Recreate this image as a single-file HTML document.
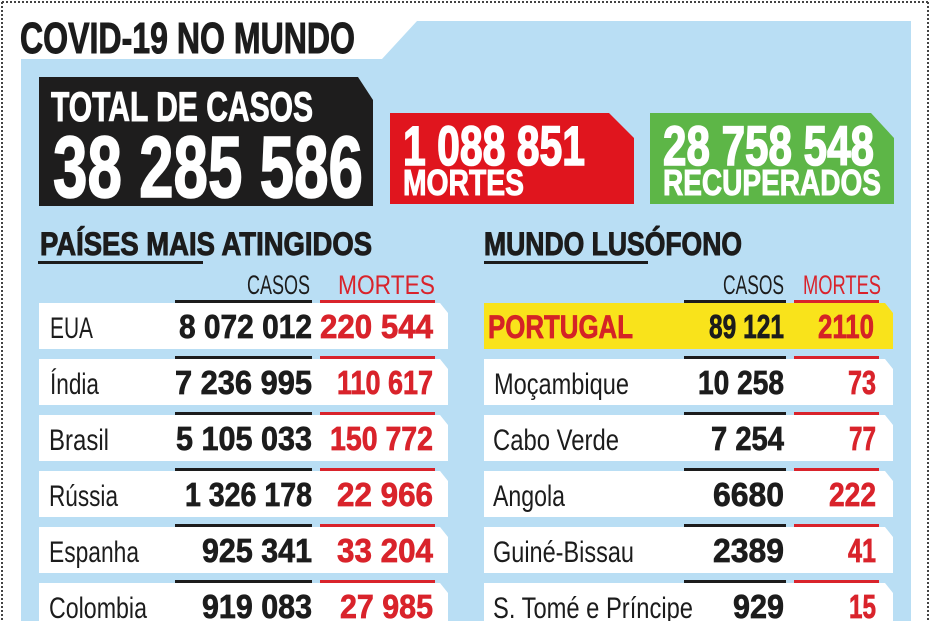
<!DOCTYPE html>
<html>
<head>
<meta charset="utf-8">
<style>
html,body{margin:0;padding:0;background:#fff;}
svg{display:block;}
text{font-family:"Liberation Sans",Arial,sans-serif;}
.b{font-weight:bold;}
.k{stroke:#1c1c1c;stroke-width:0.7;}
.r{stroke:#d9232b;stroke-width:0.7;}
.w{stroke:#fff;stroke-width:1;}
.wb{stroke:#fff;stroke-width:1.6;}
.t{stroke:#1c1c1c;stroke-width:1;}
</style>
</head>
<body>
<svg width="932" height="621" viewBox="0 0 932 621" xmlns="http://www.w3.org/2000/svg">
<rect x="0" y="0" width="932" height="621" fill="#ffffff"/>
<line x1="2" y1="2" x2="928" y2="2" stroke="#444" stroke-width="2" stroke-dasharray="2,2"/>
<line x1="2" y1="2" x2="2" y2="621" stroke="#444" stroke-width="2" stroke-dasharray="2,2"/>
<line x1="928" y1="2" x2="928" y2="621" stroke="#444" stroke-width="2" stroke-dasharray="2,2"/>
<polygon points="21,59 382,59 417,21 911,21 911,621 21,621" fill="#b9def4"/>

<text x="20" y="53" font-size="44" class="b t" fill="#1c1c1c" textLength="335" lengthAdjust="spacingAndGlyphs">COVID-19 NO MUNDO</text>

<polygon points="39,77 358,77 373,100 373,206 39,206" fill="#1e1d1d"/>
<text x="51" y="121" font-size="42" class="b w" fill="#fff" textLength="262" lengthAdjust="spacingAndGlyphs">TOTAL DE CASOS</text>
<text x="53" y="197" font-size="87" class="b wb" fill="#fff" textLength="310" lengthAdjust="spacingAndGlyphs">38 285 586</text>

<polygon points="390,113 609,113 634,138 634,204 390,204" fill="#e0151e"/>
<text x="403" y="165" font-size="56" class="b wb" fill="#fff" textLength="182" lengthAdjust="spacingAndGlyphs">1 088 851</text>
<text x="403" y="195" font-size="36" class="b w" fill="#fff" textLength="121" lengthAdjust="spacingAndGlyphs">MORTES</text>

<polygon points="650,113 871,113 894,138 894,204 650,204" fill="#5db647"/>
<text x="663" y="165" font-size="56" class="b wb" fill="#fff" textLength="211" lengthAdjust="spacingAndGlyphs">28 758 548</text>
<text x="663" y="195" font-size="36" class="b w" fill="#fff" textLength="218" lengthAdjust="spacingAndGlyphs">RECUPERADOS</text>

<text x="40" y="255" font-size="32" class="b t" fill="#1c1c1c" textLength="332" lengthAdjust="spacingAndGlyphs">PAÍSES MAIS ATINGIDOS</text>
<rect x="38" y="261" width="165" height="3" fill="#1c1c1c"/>
<text x="484" y="255" font-size="32" class="b t" fill="#1c1c1c" textLength="258" lengthAdjust="spacingAndGlyphs">MUNDO LUSÓFONO</text>
<rect x="484" y="261" width="164" height="3" fill="#1c1c1c"/>

<text x="247" y="294" font-size="27" fill="#1c1c1c" textLength="63" lengthAdjust="spacingAndGlyphs">CASOS</text>
<text x="338" y="294" font-size="27" fill="#d9232b" textLength="97" lengthAdjust="spacingAndGlyphs">MORTES</text>
<text x="723" y="294" font-size="27" fill="#1c1c1c" textLength="61" lengthAdjust="spacingAndGlyphs">CASOS</text>
<text x="803" y="294" font-size="27" fill="#d9232b" textLength="78" lengthAdjust="spacingAndGlyphs">MORTES</text>

<g>
<polygon points="39,303 440,303 448,313 448,349 39,349" fill="#fff"/>
<polygon points="39,359 440,359 448,369 448,405 39,405" fill="#fff"/>
<polygon points="39,415 440,415 448,425 448,461 39,461" fill="#fff"/>
<polygon points="39,471 440,471 448,481 448,517 39,517" fill="#fff"/>
<polygon points="39,527 440,527 448,537 448,573 39,573" fill="#fff"/>
<polygon points="39,583 440,583 448,593 448,629 39,629" fill="#fff"/>

<rect x="175" y="300" width="137" height="3" fill="#1c1c1c"/><rect x="320" y="300" width="115" height="3" fill="#d9232b"/>
<rect x="175" y="356" width="137" height="3" fill="#1c1c1c"/><rect x="320" y="356" width="115" height="3" fill="#d9232b"/>
<rect x="175" y="412" width="137" height="3" fill="#1c1c1c"/><rect x="320" y="412" width="115" height="3" fill="#d9232b"/>
<rect x="175" y="468" width="137" height="3" fill="#1c1c1c"/><rect x="320" y="468" width="115" height="3" fill="#d9232b"/>
<rect x="175" y="524" width="137" height="3" fill="#1c1c1c"/><rect x="320" y="524" width="115" height="3" fill="#d9232b"/>
<rect x="175" y="580" width="137" height="3" fill="#1c1c1c"/><rect x="320" y="580" width="115" height="3" fill="#d9232b"/>

<text x="50" y="338" font-size="30" fill="#1c1c1c" textLength="43" lengthAdjust="spacingAndGlyphs">EUA</text>
<text x="50" y="394" font-size="30" fill="#1c1c1c" textLength="49" lengthAdjust="spacingAndGlyphs">Índia</text>
<text x="49" y="450" font-size="30" fill="#1c1c1c" textLength="60" lengthAdjust="spacingAndGlyphs">Brasil</text>
<text x="49" y="506" font-size="30" fill="#1c1c1c" textLength="69" lengthAdjust="spacingAndGlyphs">Rússia</text>
<text x="49" y="562" font-size="30" fill="#1c1c1c" textLength="90" lengthAdjust="spacingAndGlyphs">Espanha</text>
<text x="49" y="618" font-size="30" fill="#1c1c1c" textLength="98" lengthAdjust="spacingAndGlyphs">Colombia</text>

<text x="179" y="338" font-size="33" class="b k" fill="#1c1c1c" textLength="133" lengthAdjust="spacingAndGlyphs">8 072 012</text>
<text x="175" y="394" font-size="33" class="b k" fill="#1c1c1c" textLength="137" lengthAdjust="spacingAndGlyphs">7 236 995</text>
<text x="176" y="450" font-size="33" class="b k" fill="#1c1c1c" textLength="136" lengthAdjust="spacingAndGlyphs">5 105 033</text>
<text x="185" y="506" font-size="33" class="b k" fill="#1c1c1c" textLength="127" lengthAdjust="spacingAndGlyphs">1 326 178</text>
<text x="202" y="562" font-size="33" class="b k" fill="#1c1c1c" textLength="110" lengthAdjust="spacingAndGlyphs">925 341</text>
<text x="202" y="618" font-size="33" class="b k" fill="#1c1c1c" textLength="110" lengthAdjust="spacingAndGlyphs">919 083</text>

<text x="320" y="338" font-size="33" class="b r" fill="#d9232b" textLength="113" lengthAdjust="spacingAndGlyphs">220 544</text>
<text x="337" y="394" font-size="33" class="b r" fill="#d9232b" textLength="96" lengthAdjust="spacingAndGlyphs">110 617</text>
<text x="330" y="450" font-size="33" class="b r" fill="#d9232b" textLength="103" lengthAdjust="spacingAndGlyphs">150 772</text>
<text x="337" y="506" font-size="33" class="b r" fill="#d9232b" textLength="96" lengthAdjust="spacingAndGlyphs">22 966</text>
<text x="337" y="562" font-size="33" class="b r" fill="#d9232b" textLength="96" lengthAdjust="spacingAndGlyphs">33 204</text>
<text x="340" y="618" font-size="33" class="b r" fill="#d9232b" textLength="93" lengthAdjust="spacingAndGlyphs">27 985</text>
</g>

<g>
<polygon points="484,303 885,303 893,313 893,349 484,349" fill="#f9e31b"/>
<polygon points="484,359 885,359 893,369 893,405 484,405" fill="#fff"/>
<polygon points="484,415 885,415 893,425 893,461 484,461" fill="#fff"/>
<polygon points="484,471 885,471 893,481 893,517 484,517" fill="#fff"/>
<polygon points="484,527 885,527 893,537 893,573 484,573" fill="#fff"/>
<polygon points="484,583 885,583 893,593 893,629 484,629" fill="#fff"/>

<rect x="684" y="300" width="102" height="3" fill="#1c1c1c"/><rect x="794" y="300" width="85" height="3" fill="#d9232b"/>
<rect x="684" y="356" width="102" height="3" fill="#1c1c1c"/><rect x="794" y="356" width="85" height="3" fill="#d9232b"/>
<rect x="684" y="412" width="102" height="3" fill="#1c1c1c"/><rect x="794" y="412" width="85" height="3" fill="#d9232b"/>
<rect x="684" y="468" width="102" height="3" fill="#1c1c1c"/><rect x="794" y="468" width="85" height="3" fill="#d9232b"/>
<rect x="684" y="524" width="102" height="3" fill="#1c1c1c"/><rect x="794" y="524" width="85" height="3" fill="#d9232b"/>
<rect x="684" y="580" width="102" height="3" fill="#1c1c1c"/><rect x="794" y="580" width="85" height="3" fill="#d9232b"/>

<text x="488" y="338" font-size="32" class="b" fill="#d42326" stroke="#d42326" stroke-width="0.7" textLength="145" lengthAdjust="spacingAndGlyphs">PORTUGAL</text>
<text x="494" y="394" font-size="30" fill="#1c1c1c" textLength="135" lengthAdjust="spacingAndGlyphs">Moçambique</text>
<text x="493" y="450" font-size="30" fill="#1c1c1c" textLength="126" lengthAdjust="spacingAndGlyphs">Cabo Verde</text>
<text x="493" y="506" font-size="30" fill="#1c1c1c" textLength="72" lengthAdjust="spacingAndGlyphs">Angola</text>
<text x="493" y="562" font-size="30" fill="#1c1c1c" textLength="141" lengthAdjust="spacingAndGlyphs">Guiné-Bissau</text>
<text x="493" y="618" font-size="30" fill="#1c1c1c" textLength="200" lengthAdjust="spacingAndGlyphs">S. Tomé e Príncipe</text>

<text x="709" y="338" font-size="33" class="b k" fill="#1c1c1c" textLength="75" lengthAdjust="spacingAndGlyphs">89 121</text>
<text x="698" y="394" font-size="33" class="b k" fill="#1c1c1c" textLength="86" lengthAdjust="spacingAndGlyphs">10 258</text>
<text x="711" y="450" font-size="33" class="b k" fill="#1c1c1c" textLength="73" lengthAdjust="spacingAndGlyphs">7 254</text>
<text x="713" y="506" font-size="33" class="b k" fill="#1c1c1c" textLength="71" lengthAdjust="spacingAndGlyphs">6680</text>
<text x="713" y="562" font-size="33" class="b k" fill="#1c1c1c" textLength="71" lengthAdjust="spacingAndGlyphs">2389</text>
<text x="733" y="618" font-size="33" class="b k" fill="#1c1c1c" textLength="51" lengthAdjust="spacingAndGlyphs">929</text>

<text x="818" y="338" font-size="33" class="b" fill="#d42326" stroke="#d42326" stroke-width="0.7" textLength="56" lengthAdjust="spacingAndGlyphs">2110</text>
<text x="848" y="394" font-size="33" class="b r" fill="#d9232b" textLength="28" lengthAdjust="spacingAndGlyphs">73</text>
<text x="849" y="450" font-size="33" class="b r" fill="#d9232b" textLength="27" lengthAdjust="spacingAndGlyphs">77</text>
<text x="829" y="506" font-size="33" class="b r" fill="#d9232b" textLength="47" lengthAdjust="spacingAndGlyphs">222</text>
<text x="848" y="562" font-size="33" class="b r" fill="#d9232b" textLength="28" lengthAdjust="spacingAndGlyphs">41</text>
<text x="849" y="618" font-size="33" class="b r" fill="#d9232b" textLength="27" lengthAdjust="spacingAndGlyphs">15</text>
</g>
</svg>
</body>
</html>
